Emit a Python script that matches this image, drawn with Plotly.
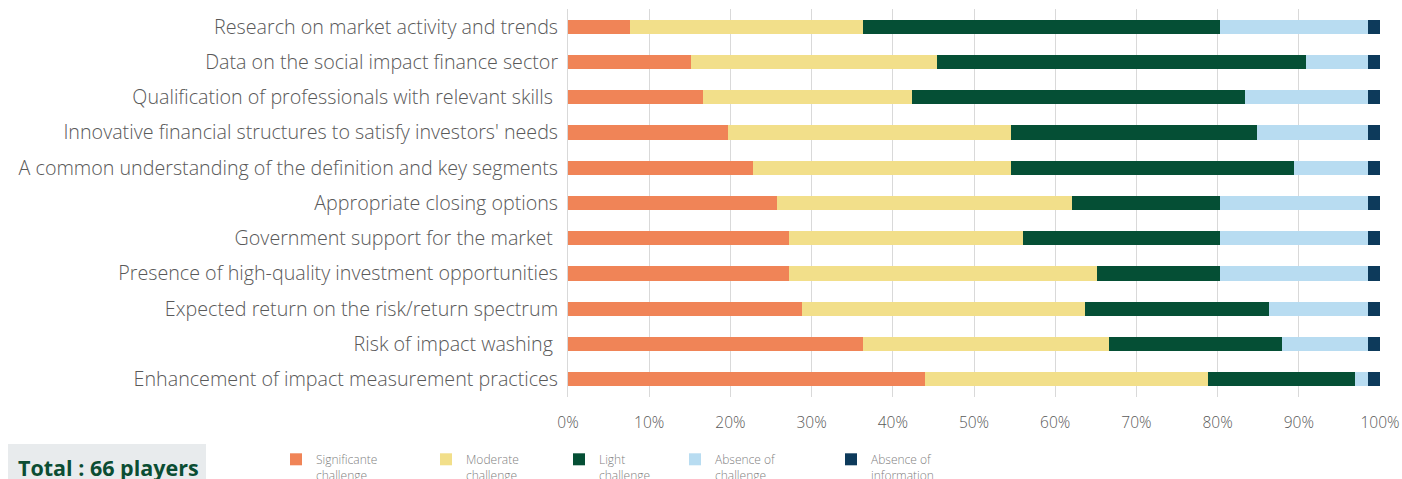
import plotly.graph_objects as go

categories = [
    "Research on market activity and trends",
    "Data on the social impact finance sector",
    "Qualification of professionals with relevant skills\u00a0",
    "Innovative financial structures to satisfy investors' needs",
    "A common understanding of the definition and key segments",
    "Appropriate closing options",
    "Government support for the market\u00a0",
    "Presence of high-quality investment opportunities",
    "Expected return on the risk/return spectrum",
    "Risk of impact washing\u00a0",
    "Enhancement of impact measurement practices",
]

# number of players (out of 66) per answer
significant = [5, 10, 11, 13, 15, 17, 18, 18, 19, 24, 29]
moderate    = [19, 20, 17, 23, 21, 24, 19, 25, 23, 20, 23]
light       = [29, 30, 27, 20, 23, 12, 16, 10, 15, 14, 12]
absence     = [12, 5, 10, 9, 6, 12, 12, 12, 8, 7, 1]
no_info     = [1, 1, 1, 1, 1, 1, 1, 1, 1, 1, 1]

series_names = ["Significante<br>challenge", "Moderate<br>challenge", "Light<br>challenge",
                "Absence of<br>challenge", "Absence of<br>information"]
series_values = [significant, moderate, light, absence, no_info]
colors = ["#F08457", "#F2DF8A", "#054F35", "#B8DCF1", "#0D3A5B"]

tick_vals = [0, 10, 20, 30, 40, 50, 60, 70, 80, 90, 100]
tick_text = [f"{v}%" for v in tick_vals]

# page geometry (body margin removed by post_script below)
W, H = 1402, 479
# plot area in page pixels: x 568..1380, y 9..397
ML = 568
MR = W - 1380
MT = 9
MB = H - 397
PW, PH = W - ML - MR, H - MT - MB


def px_x(x):  # page px -> paper
    return (x - ML) / PW


def px_y(y):  # page px -> paper
    return (H - MB - y) / PH


legend_keys = ["legend", "legend2", "legend3", "legend4", "legend5"]
legend_x = [291, 441, 574, 690, 846]

fig = go.Figure()
for name, vals, col, lk in zip(series_names, series_values, colors, legend_keys):
    fig.add_trace(go.Bar(
        y=categories, x=vals, name=name, orientation="h",
        marker=dict(color=col, line=dict(width=0)),
        width=0.4, legend=lk,
    ))

FONT = "Open Sans"
layout_legends = {}
for lk, lx in zip(legend_keys, legend_x):
    layout_legends[lk] = dict(
        orientation="h", x=px_x(lx - 15), xanchor="left",
        y=px_y(445), yanchor="top",
        font=dict(size=12, color="#7F7F7F", family=FONT, weight=300),
        valign="top", itemclick=False, itemdoubleclick=False,
        bgcolor="rgba(0,0,0,0)",
    )

fig.update_layout(
    barmode="stack",
    barnorm="percent",
    width=W, height=H,
    margin=dict(l=ML, r=MR, t=MT, b=MB, autoexpand=False),
    paper_bgcolor="white",
    plot_bgcolor="white",
    font=dict(family=FONT, color="#595959"),
    hovermode=False,
    xaxis=dict(
        range=[0, 100], tickvals=tick_vals, ticktext=tick_text,
        showgrid=True, gridcolor="#D9D9D9", gridwidth=1,
        zeroline=False, showline=False,
        tickfont=dict(size=15.5, color="#595959", family=FONT, weight=300),
        ticks="outside", ticklen=11, tickcolor="rgba(0,0,0,0)",
    ),
    yaxis=dict(
        categoryorder="array", categoryarray=categories,
        autorange="reversed",
        tickfont=dict(size=19.7, color="#595959", family=FONT, weight=300),
        ticks="outside", ticklen=5, tickcolor="rgba(0,0,0,0)",
        showgrid=False, zeroline=False,
        showline=True, linecolor="#D9D9D9",
    ),
    showlegend=True,
    **layout_legends,
)

fig.add_shape(type="rect", xref="paper", yref="paper",
              x0=px_x(8), x1=px_x(206),
              y0=px_y(490), y1=px_y(444),
              fillcolor="#E8EBED", line=dict(width=0), layer="below")
fig.add_annotation(text="<b>Total : 66 players</b>", xref="paper", yref="paper",
                   x=px_x(16), xanchor="left",
                   y=px_y(467), yanchor="middle",
                   showarrow=False, font=dict(size=21.5, color="#0B4D33", family=FONT))

fig.write_html(
    "out.html",
    config={"displayModeBar": False},
    post_script="document.body.style.margin='0';document.body.style.overflow='hidden';",
)
